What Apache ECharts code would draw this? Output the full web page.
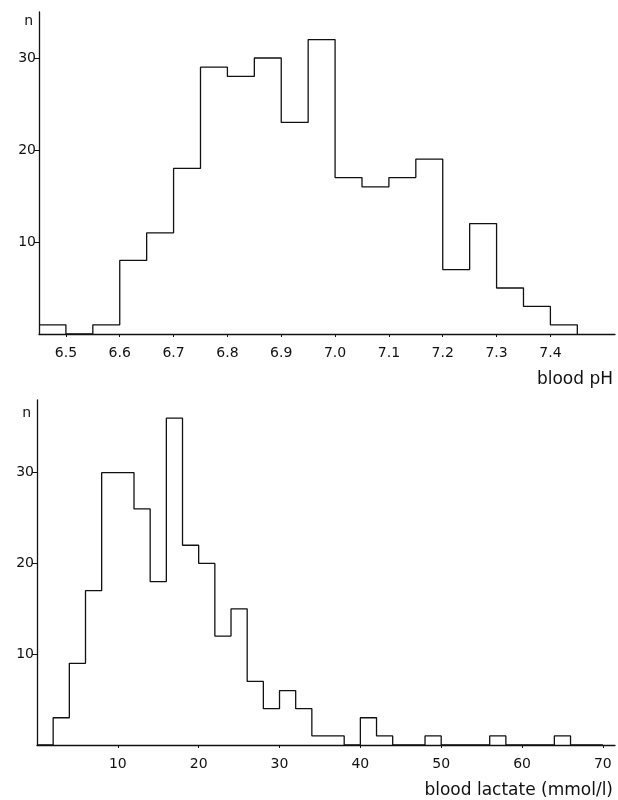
<!DOCTYPE html>
<html>
<head>
<meta charset="utf-8">
<script src="https://cdn.jsdelivr.net/npm/echarts@6/dist/echarts.min.js"></script>
<style>html,body{margin:0;padding:0;background:#fff;}#c{width:618px;height:800px;}</style>
</head>
<body>
<div id="c"></div>
<script>
// Blood pH histogram: bin lower edges, upper edges and counts
const phBinStart = [6.45,6.50,6.55,6.60,6.65,6.70,6.75,6.80,6.85,6.90,6.95,7.00,7.05,7.10,7.15,7.20,7.25,7.30,7.35,7.40];
const phBinEnd   = [6.50,6.55,6.60,6.65,6.70,6.75,6.80,6.85,6.90,6.95,7.00,7.05,7.10,7.15,7.20,7.25,7.30,7.35,7.40,7.45];
const phCounts   = [1,0,1,8,11,18,29,28,30,23,32,17,16,17,19,7,12,5,3,1];
const phTicks    = [6.5,6.6,6.7,6.8,6.9,7.0,7.1,7.2,7.3,7.4];

// Blood lactate histogram (mmol/l)
const lacBinStart = [0,2,4,6,8,10,12,14,16,18,20,22,24,26,28,30,32,34,36,38,40,42,44,46,48,50,52,54,56,58,60,62,64,66,68];
const lacBinEnd   = [2,4,6,8,10,12,14,16,18,20,22,24,26,28,30,32,34,36,38,40,42,44,46,48,50,52,54,56,58,60,62,64,66,68,70];
const lacCounts   = [0,3,9,17,30,30,26,18,36,22,20,12,15,7,4,6,4,1,1,0,3,1,0,0,1,0,0,0,1,0,0,0,1,0,0];
const lacTicks    = [10,20,30,40,50,60,70];

const yTicks = [10,20,30];

function stepPoints(starts, ends, counts) {
  const pts = [];
  for (let i = 0; i < counts.length; i++) {
    pts.push([starts[i], counts[i]]);
    pts.push([ends[i], counts[i]]);
  }
  pts.push([ends[ends.length - 1], 0]);
  return pts;
}

const FONT = 'DejaVu Sans';
const black = '#111';

function xAxisCfg(gridIndex, min, max, ticks, name, decimals) {
  return {
    type: 'value', gridIndex, min, max,
    name, nameLocation: 'end', nameGap: -2,
    nameTextStyle: { fontFamily: FONT, fontSize: 17, color: black, align: 'right', verticalAlign: 'top', padding: [37, 0, 0, 0] },
    axisLine: { show: true, lineStyle: { color: black, width: 1.3 } },
    axisTick: { show: true, length: 3, customValues: ticks, lineStyle: { color: black } },
    axisLabel: { show: true, customValues: ticks, margin: 12, fontFamily: FONT, fontSize: 14, color: black,
      formatter: v => Number(v).toFixed(decimals) },
    splitLine: { show: false }
  };
}
function yAxisCfg(gridIndex, max, gap) {
  return {
    type: 'value', gridIndex, min: 0, max,
    name: 'n', nameLocation: 'end', nameGap: gap,
    nameTextStyle: { fontFamily: FONT, fontSize: 14, color: black, align: 'right', verticalAlign: 'middle', padding: [0, 6, 0, 0] },
    axisLine: { show: true, lineStyle: { color: black, width: 1.3 } },
    axisTick: { show: true, length: 5, customValues: yTicks, lineStyle: { color: black } },
    axisLabel: { show: true, customValues: yTicks, margin: 3, fontFamily: FONT, fontSize: 14, color: black },
    splitLine: { show: false }
  };
}

const chart = echarts.init(document.getElementById('c'), null, { renderer: 'canvas' });
chart.setOption({
  animation: false,
  backgroundColor: '#fff',
  grid: [
    { left: 39, right: 3, top: 12, height: 322 },
    { left: 37, right: 3, top: 400, height: 345 }
  ],
  xAxis: [
    xAxisCfg(0, 6.45, 7.52, phTicks, 'blood pH', 1),
    xAxisCfg(1, 0, 71.5, lacTicks, 'blood lactate (mmol/l)', 0)
  ],
  yAxis: [
    yAxisCfg(0, 35, -9),
    yAxisCfg(1, 38, -13)
  ],
  series: [
    {
      type: 'line', xAxisIndex: 0, yAxisIndex: 0,
      data: stepPoints(phBinStart, phBinEnd, phCounts),
      symbol: 'none', lineStyle: { color: black, width: 1.3 }
    },
    {
      type: 'line', xAxisIndex: 1, yAxisIndex: 1,
      data: stepPoints(lacBinStart, lacBinEnd, lacCounts),
      symbol: 'none', lineStyle: { color: black, width: 1.3 }
    }
  ]
});
</script>
</body>
</html>
